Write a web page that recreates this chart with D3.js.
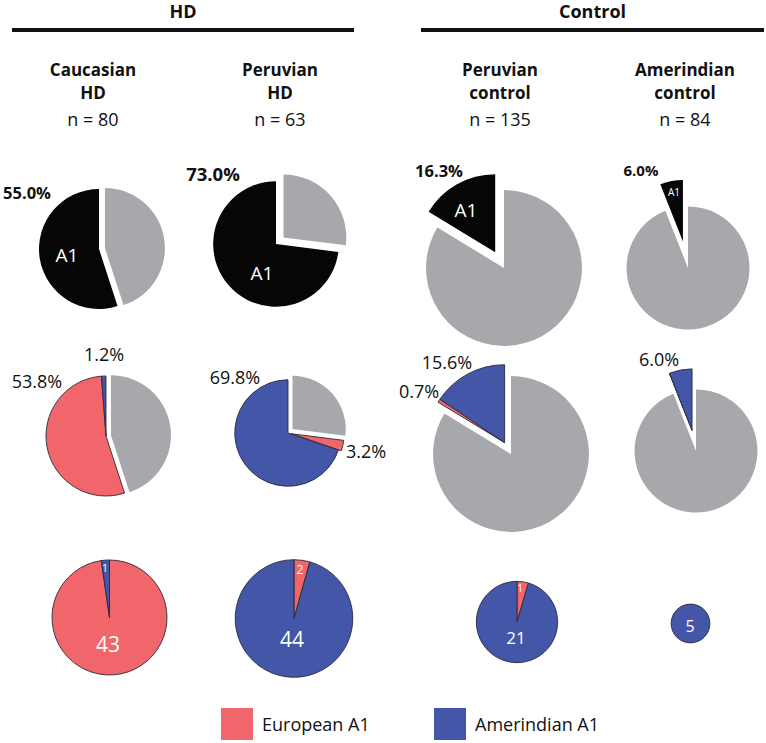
<!DOCTYPE html>
<html><head><meta charset="utf-8">
<script src="https://cdn.jsdelivr.net/npm/d3@7"></script>
<style>html,body{margin:0;padding:0;background:#fff}svg{display:block}text{font-family:"Open Sans",sans-serif}</style>
</head><body><svg id="c" width="766" height="743"></svg>
<script>
// ---------- data ----------
const groupTitles = ["HD", "Control"];
const panelLine1 = ["Caucasian", "Peruvian", "Peruvian", "Amerindian"];
const panelLine2 = ["HD", "HD", "control", "control"];
const sampleN = [80, 63, 135, 84];
const a1Pct = [55.0, 73.0, 16.3, 6.0];
const nonA1Pct = [45.0, 27.0, 83.7, 94.0];
const europeanPct = [53.8, 3.2, 0.7, 0];
const amerindianPct = [1.2, 69.8, 15.6, 6.0];
const europeanCount = [43, 2, 1, 0];
const amerindianCount = [1, 44, 21, 5];
const legendLabels = ["European A1", "Amerindian A1"];

// ---------- styles / layout ----------
const C = {black:"#060606", grey:"#a7a8ab", eur:"#f0666a", ame:"#4456a7", edge:"#2b2b3a"};
const svg = d3.select("#c");
const colX = [93, 280, 500, 685];
const row1C = [[99,249],[276,244],[504,268],[688,268]];
const row2C = [[106,436],[288,433],[511,454],[696,451]];
const row3C = [[109.5,617.5],[294,618.5],[517,622],[690.5,623.5]];
const row1Boost = [1, 1.18, 1, 1];
const rScale = d3.scaleSqrt().domain([0, 80]).range([0, 60]);
const rScale3 = d3.scaleSqrt().domain([0, 44]).range([0, 57.5]);
const pie = d3.pie().sort(null).value(d => d.value);

function drawPie(center, r, slices, explode){
  const arcs = pie(slices);
  const g = svg.append("g").attr("transform", `translate(${center[0]},${center[1]})`);
  const off = {};
  explode.forEach(ex => {
    const sel = arcs.filter(a => ex.keys.includes(a.data.key));
    const s = d3.min(sel, a => a.startAngle), e = d3.max(sel, a => a.endAngle);
    const m = (s + e) / 2;
    sel.forEach(a => off[a.data.key] = [Math.sin(m) * ex.d, -Math.cos(m) * ex.d]);
  });
  const arc = d3.arc().innerRadius(0).outerRadius(r);
  g.selectAll("path").data(arcs).join("path")
    .attr("d", arc)
    .attr("transform", a => { const o = off[a.data.key] || [0,0]; return `translate(${o[0]},${o[1]})`; })
    .attr("fill", a => a.data.color)
    .attr("stroke", a => a.data.stroke ? C.edge : "none")
    .attr("stroke-width", 0.9)
    .attr("stroke-linejoin", "round");
}

function label(x, y, txt, size, weight, fill){
  svg.append("text").attr("x", x).attr("y", y).attr("dy", "0.35em")
    .attr("text-anchor", "middle").attr("font-size", size)
    .attr("font-weight", weight || "normal").attr("fill", fill || "#111").text(txt);
}

// ---------- headers ----------
const groupSpan = [[12, 354], [421, 764]];
groupTitles.forEach((t, i) => {
  label((groupSpan[i][0] + groupSpan[i][1]) / 2, 12, t, 18, "bold");
  svg.append("line").attr("x1", groupSpan[i][0]).attr("x2", groupSpan[i][1])
    .attr("y1", 30).attr("y2", 30).attr("stroke", "#111").attr("stroke-width", 4);
});
colX.forEach((x, i) => {
  label(x, 70, panelLine1[i], 17, "bold");
  label(x, 93, panelLine2[i], 17, "bold");
  label(x, 120, "n = " + sampleN[i], 18, "normal");
});

// ---------- row 1 : A1 vs non-A1 ----------
const row1Explode = [{keys:["non"], d:6}, {keys:["non"], d:10}, {keys:["a1"], d:18}, {keys:["a1"], d:27}];
colX.forEach((x, i) => {
  drawPie(row1C[i], rScale(sampleN[i]) * row1Boost[i], [
    {key:"non", value:nonA1Pct[i], color:C.grey},
    {key:"a1", value:a1Pct[i], color:C.black}
  ], [row1Explode[i]]);
});
const row1Pct = [[27,193,16.5],[213,175,18.5],[439,171,16.5],[641,171,15]];
row1Pct.forEach((p, i) => label(p[0], p[1], a1Pct[i].toFixed(1) + "%", p[2], "bold"));
const row1A1 = [[67,255,19],[262,273,19],[466,210,19],[674,192,10]];
row1A1.forEach(p => label(p[0], p[1], "A1", p[2], "normal", "#fff"));

// ---------- row 2 : European / Amerindian / non-A1 ----------
const row2Explode = [
  [{keys:["non"], d:5}],
  [{keys:["non"], d:6}, {keys:["eur"], d:3}],
  [{keys:["eur","ame"], d:13}],
  [{keys:["eur","ame"], d:21}]
];
colX.forEach((x, i) => {
  drawPie(row2C[i], rScale(sampleN[i]), [
    {key:"non", value:nonA1Pct[i], color:C.grey},
    {key:"eur", value:europeanPct[i], color:C.eur, stroke:true},
    {key:"ame", value:amerindianPct[i], color:C.ame, stroke:true}
  ], row2Explode[i]);
});
label(37, 382, europeanPct[0].toFixed(1) + "%", 18);
label(104, 355, amerindianPct[0].toFixed(1) + "%", 18);
label(235, 378, amerindianPct[1].toFixed(1) + "%", 18);
label(366, 452, europeanPct[1].toFixed(1) + "%", 18);
label(447, 363, amerindianPct[2].toFixed(1) + "%", 18);
label(419, 392, europeanPct[2].toFixed(1) + "%", 18);
label(659, 360, amerindianPct[3].toFixed(1) + "%", 18);

// ---------- row 3 : counts ----------
colX.forEach((x, i) => {
  drawPie(row3C[i], rScale3(europeanCount[i] + amerindianCount[i]), [
    {key:"eur", value:europeanCount[i], color:C.eur, stroke:true},
    {key:"ame", value:amerindianCount[i], color:C.ame, stroke:true}
  ], []);
});
label(108, 645, europeanCount[0], 21, "normal", "#fff");
label(105, 568, amerindianCount[0], 11, "normal", "#fff");
label(292, 640, amerindianCount[1], 21, "normal", "#fff");
label(300, 570, europeanCount[1], 12, "normal", "#fff");
label(516, 638, amerindianCount[2], 17, "normal", "#fff");
label(520, 588, europeanCount[2], 10, "normal", "#fff");
label(690, 626, amerindianCount[3], 16, "normal", "#fff");

// ---------- legend ----------
const legX = [221, 434];
const legC = [C.eur, C.ame];
legendLabels.forEach((t, i) => {
  svg.append("rect").attr("x", legX[i]).attr("y", 708).attr("width", 32).attr("height", 32).attr("fill", legC[i]);
  svg.append("text").attr("x", legX[i] + 41).attr("y", 725).attr("dy", "0.35em")
    .attr("font-size", 18).attr("fill", "#111").text(t);
});
</script></body></html>
